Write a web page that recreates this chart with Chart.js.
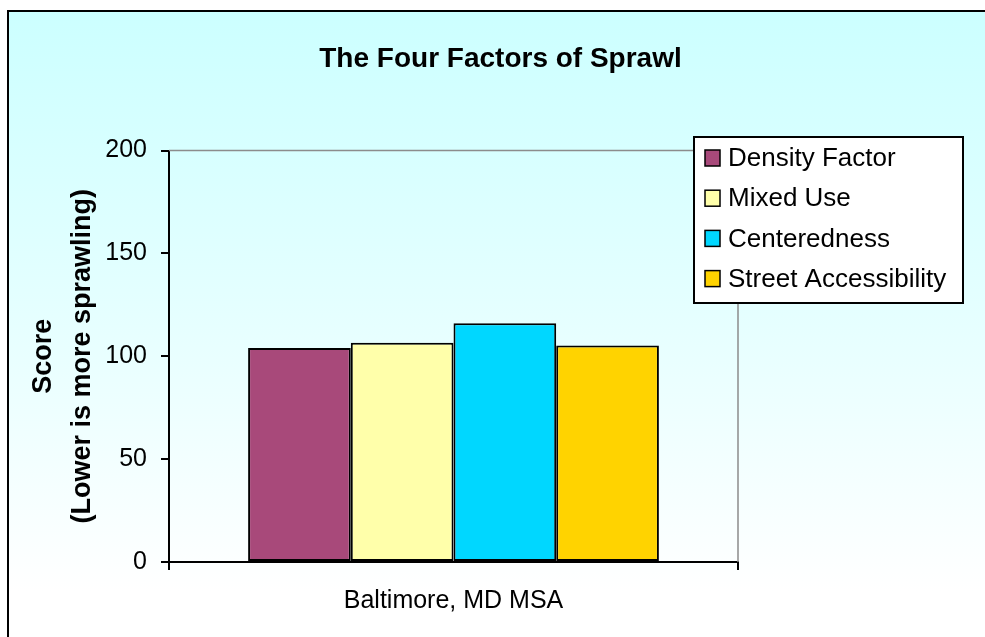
<!DOCTYPE html>
<html>
<head>
<meta charset="utf-8">
<script src="https://cdn.jsdelivr.net/npm/chart.js@4/dist/chart.umd.min.js"></script>
<style>
  html, body { margin: 0; padding: 0; background: #ffffff; }
  #wrap { position: relative; width: 985px; height: 637px; overflow: hidden; background: #ffffff; }
  #bg { position: absolute; left: 7px; top: 10px; right: -5px; bottom: -5px;
        border-left: 2px solid #000; border-top: 2px solid #000;
        background: linear-gradient(to bottom, #ccffff 0%, #e6ffff 50%, #ffffff 92%, #ffffff 100%); }
  #c { position: absolute; left: 0; top: 0; }
</style>
</head>
<body>
<div id="wrap">
  <div id="bg"></div>
  <canvas id="c" width="985" height="637"></canvas>
</div>
<script>
// ---- data ----
const categories = ['Baltimore, MD MSA'];
const seriesNames = ['Density Factor', 'Mixed Use', 'Centeredness', 'Street Accessibility'];
const densityFactor = [104];
const mixedUse = [106.6];
const centeredness = [116.1];
const streetAccessibility = [105.3];
const yTickMin = 0;
const yTickMax = 200;
const yTickStep = 50;
const chartTitle = 'The Four Factors of Sprawl';
const yAxisTitle = ['Score', '(Lower is more sprawling)'];

// ---- styles ----
const seriesColors = ['#a8497a', '#ffffaa', '#00d7ff', '#ffd300'];
const seriesValues = [densityFactor, mixedUse, centeredness, streetAccessibility];

Chart.defaults.font.family = '"Liberation Sans", Arial, sans-serif';
Chart.defaults.color = '#000';

const plotFrame = {
  id: 'plotFrame',
  beforeDatasetsDraw(chart) {
    const {ctx, chartArea: a} = chart;
    ctx.save();
    ctx.strokeStyle = '#8c8c8c';
    ctx.lineWidth = 1.5;
    ctx.beginPath();
    ctx.moveTo(a.left, a.top);
    ctx.lineTo(a.right, a.top);
    ctx.lineTo(a.right, a.bottom);
    ctx.stroke();
    ctx.restore();
  }
};

const boxLegend = {
  id: 'boxLegend',
  afterDraw(chart) {
    const {ctx} = chart;
    const x = 694, y = 137, w = 269, h = 166;
    ctx.save();
    ctx.fillStyle = '#fff';
    ctx.fillRect(x, y, w, h);
    ctx.strokeStyle = '#000';
    ctx.lineWidth = 2;
    ctx.strokeRect(x, y, w, h);
    ctx.font = '26px "Liberation Sans", Arial, sans-serif';
    ctx.textBaseline = 'middle';
    ctx.textAlign = 'left';
    chart.data.datasets.forEach((ds, i) => {
      const cy = 158 + i * 40.2;
      ctx.fillStyle = ds.backgroundColor;
      ctx.fillRect(705, cy - 8, 15, 16);
      ctx.strokeStyle = '#000';
      ctx.lineWidth = 1.5;
      ctx.strokeRect(705, cy - 8, 15, 16);
      ctx.fillStyle = '#000';
      ctx.fillText(ds.label, 728, cy + 1);
    });
    ctx.restore();
  }
};

new Chart(document.getElementById('c'), {
  type: 'bar',
  data: {
    labels: categories,
    datasets: seriesNames.map((name, i) => ({
      label: name,
      data: seriesValues[i],
      backgroundColor: seriesColors[i],
      borderColor: '#000',
      borderWidth: 2,
      borderSkipped: false,
      barPercentage: 1.0,
      categoryPercentage: 0.722
    }))
  },
  options: {
    responsive: false,
    animation: false,
    layout: { padding: { left: 16, right: 0, top: 0, bottom: 0 } },
    plugins: {
      legend: { display: false },
      tooltip: { enabled: false },
      title: {
        display: true,
        text: chartTitle,
        color: '#000',
        font: { size: 28, weight: 'bold' },
        padding: { top: 42, bottom: 75 }
      }
    },
    scales: {
      x: {
        grid: { display: true, drawOnChartArea: false, drawTicks: true, tickLength: 8, color: '#000', lineWidth: 2, offset: true },
        border: { display: true, color: '#000', width: 2 },
        ticks: { color: '#000', font: { size: 25 }, padding: 16 },
        afterFit(scale) { scale.height = 75; }
      },
      y: {
        min: yTickMin,
        max: yTickMax,
        ticks: { stepSize: yTickStep, color: '#000', font: { size: 25 }, padding: 14 },
        grid: { display: true, drawOnChartArea: false, drawTicks: true, tickLength: 8, color: '#000', lineWidth: 2 },
        border: { display: true, color: '#000', width: 2 },
        title: {
          display: true,
          text: yAxisTitle,
          color: '#000',
          font: { size: 27, weight: 'bold', lineHeight: 1.41 },
          padding: { top: 9, bottom: 0 }
        },
        afterFit(scale) { scale.width = 153; }
      },
      yRight: {
        type: 'linear',
        position: 'right',
        min: yTickMin,
        max: yTickMax,
        ticks: { display: false },
        grid: { display: false },
        border: { display: false },
        afterFit(scale) { scale.width = 247; }
      }
    }
  },
  plugins: [plotFrame, boxLegend]
});
</script>
</body>
</html>
